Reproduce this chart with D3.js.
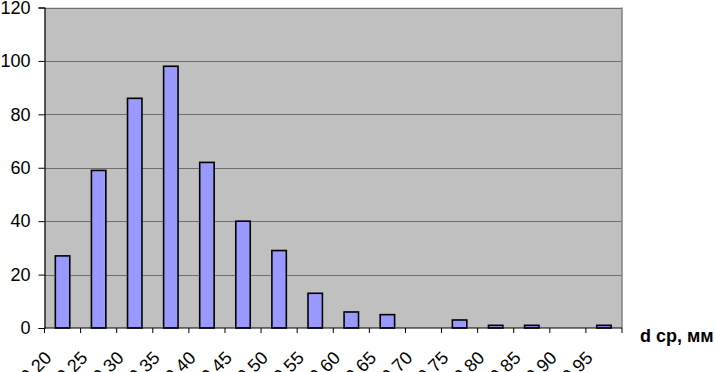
<!DOCTYPE html>
<html><head><meta charset="utf-8">
<script src="https://cdn.jsdelivr.net/npm/d3@7"></script>
<style>body{margin:0;background:#fff}svg{display:block}text{font-family:"Liberation Sans",Arial,sans-serif}</style>
</head><body><svg id="c" width="715" height="372"></svg>
<script>
const categories = ["0.20","0.25","0.30","0.35","0.40","0.45","0.50","0.55","0.60","0.65","0.70","0.75","0.80","0.85","0.90","0.95"];
const values = [27,59,86,98,62,40,29,13,6,5,0,3,1,1,0,1];
const yTicks = [0,20,40,60,80,100,120];
const xTitle = "d ср, мм";

const svg = d3.select("#c");
const L = 44.5, R = 622, T = 7.5, B = 328;
const xb = d3.scaleBand().domain(categories).range([L, R]);
const y = d3.scaleLinear().domain([0,120]).range([B, T]);

svg.append("rect").attr("x",L).attr("y",T).attr("width",R-L).attr("height",B-T).attr("fill","#c0c0c0");
// grid
svg.append("g").selectAll("line").data(yTicks.filter(d=>d>0)).join("line")
  .attr("x1",L).attr("x2",R).attr("y1",d=>Math.round(y(d))+0.5).attr("y2",d=>Math.round(y(d))+0.5)
  .attr("stroke","#6e6e6e").attr("stroke-width",1);
svg.append("line").attr("x1",R).attr("x2",R).attr("y1",T).attr("y2",B).attr("stroke","#808080").attr("stroke-width",1.5);

// bars
const bw = xb.bandwidth()*0.4;
svg.append("g").selectAll("rect").data(categories.map((c,i)=>({c,v:values[i]})).filter(d=>d.v>0)).join("rect")
  .attr("x",d=>xb(d.c)+xb.bandwidth()/2-bw/2).attr("width",bw)
  .attr("y",d=>y(d.v)).attr("height",d=>B-y(d.v))
  .attr("fill","#9999ff").attr("stroke","#000").attr("stroke-width",1.6);

// y axis
const ya = svg.append("g").attr("transform",`translate(${L},0)`)
  .call(d3.axisLeft(y).tickValues(yTicks).tickSize(6).tickPadding(8).tickFormat(d3.format("d")));
ya.select(".domain").attr("stroke","#000").attr("stroke-width",1.2);
ya.selectAll(".tick line").attr("stroke","#000");
ya.selectAll("text").attr("font-size",18).attr("fill","#000");

// x axis
const xa = svg.append("g").attr("transform",`translate(0,${B})`);
xa.append("line").attr("x1",L).attr("x2",R).attr("stroke","#000").attr("stroke-width",1.2);
const tickPos = categories.map(c=>xb(c)).concat([R]);
xa.selectAll("line.t").data(tickPos).join("line").attr("class","t")
  .attr("x1",d=>d).attr("x2",d=>d).attr("y1",0).attr("y2",5).attr("stroke","#000");
xa.selectAll("text").data(categories).join("text")
  .attr("transform",c=>`translate(${xb(c)+xb.bandwidth()/2-10},31) rotate(-45)`)
  .attr("text-anchor","end").attr("font-size",18).attr("fill","#000").text(c=>c);

svg.append("text").attr("x",640).attr("y",342).attr("font-size",18).attr("font-weight","bold").attr("fill","#000").text(xTitle);
</script></body></html>
